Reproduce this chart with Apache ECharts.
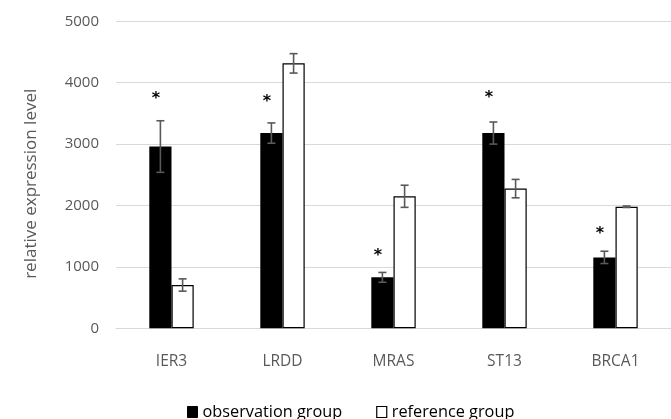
<!DOCTYPE html>
<html><head><meta charset="utf-8">
<script src="https://cdn.jsdelivr.net/npm/echarts@6/dist/echarts.min.js"></script>
<style>html,body{margin:0;padding:0;background:#fff}#c{width:671px;height:419px}</style>
</head><body><div id="c"></div>
<script>
const categories = ['IER3', 'LRDD', 'MRAS', 'ST13', 'BRCA1'];
const observationValues = [2960, 3180, 830, 3180, 1155];
const observationErrors = [420, 165, 80, 180, 100];
const referenceValues = [705, 4315, 2150, 2275, 1980];
const referenceErrors = [100, 158, 180, 150, 12];
const markerHeights = [3780, 3730, 1230, 3800, 1585];
const markerText = '*';
const yTicks = [0, 1000, 2000, 3000, 4000, 5000];

const FONT = 'Open Sans';
const errData = [];
categories.forEach((c, i) => {
  errData.push([i, observationValues[i], observationErrors[i], -1]);
  errData.push([i, referenceValues[i], referenceErrors[i], 1]);
});
const markData = categories.map((c, i) => [i, markerHeights[i]]);

const chart = echarts.init(document.getElementById('c'), null, {renderer: 'canvas'});
chart.setOption({
  animation: false,
  backgroundColor: '#fff',
  grid: {left: 116, right: 0, top: 21.3, bottom: 90.7, containLabel: false},
  legend: {
    left: 187, top: 404, padding: 0,
    itemWidth: 10, itemHeight: 11, itemGap: 34,
    textStyle: {fontFamily: FONT, fontSize: 16.3, color: '#000'},
    data: [
      {name: 'observation group', icon: 'rect', itemStyle: {color: '#000', borderColor: '#000', borderWidth: 1}},
      {name: 'reference group', icon: 'rect', itemStyle: {color: '#fff', borderColor: '#000', borderWidth: 1.2}}
    ]
  },
  xAxis: {
    type: 'category', data: categories,
    axisLine: {lineStyle: {color: '#d9d9d9', width: 1}},
    axisTick: {show: false},
    axisLabel: {fontFamily: FONT, fontSize: 15.5, color: '#595959', margin: 25}
  },
  yAxis: {
    type: 'value', min: yTicks[0], max: yTicks[yTicks.length - 1], interval: 1000,
    name: 'relative expression level', nameLocation: 'middle', nameGap: 76,
    nameTextStyle: {fontFamily: FONT, fontSize: 17, color: '#595959', padding: [0, 18, 0, 0]},
    axisLine: {show: false}, axisTick: {show: false},
    axisLabel: {fontFamily: FONT, fontSize: 15, color: '#595959', margin: 17,
      formatter: function (v) { return String(v); }},
    splitLine: {lineStyle: {color: '#d9d9d9', width: 1}}
  },
  series: [
    {name: 'observation group', type: 'bar', data: observationValues,
     barGap: '0%', barCategoryGap: '60%',
     itemStyle: {color: '#000'}},
    {name: 'reference group', type: 'bar', data: referenceValues,
     barGap: '0%', barCategoryGap: '60%',
     itemStyle: {color: '#fff', borderColor: '#000', borderWidth: 1.2}},
    {name: 'errors', type: 'custom', data: errData, encode: {x: 0, y: 1}, z: 5,
     renderItem: function (params, api) {
       const i = api.value(0), v = api.value(1), e = api.value(2), side = api.value(3);
       const band = api.size([1, 0])[0];
       const x = api.coord([i, v])[0] + side * band * 0.1;
       const yT = api.coord([i, v + e])[1], yB = api.coord([i, v - e])[1];
       const cap = 4, st = {stroke: '#595959', lineWidth: 1.6};
       return {type: 'group', children: [
         {type: 'line', shape: {x1: x, y1: yT, x2: x, y2: yB}, style: st},
         {type: 'line', shape: {x1: x - cap, y1: yT, x2: x + cap, y2: yT}, style: st},
         {type: 'line', shape: {x1: x - cap, y1: yB, x2: x + cap, y2: yB}, style: st}
       ]};
     }},
    {name: 'markers', type: 'custom', data: markData, encode: {x: 0, y: 1}, z: 6,
     renderItem: function (params, api) {
       const i = api.value(0), v = api.value(1);
       const band = api.size([1, 0])[0];
       const p = api.coord([i, v]);
       return {type: 'text', x: p[0] - band * 0.1 - band * 0.04, y: p[1] + 3,
         style: {text: markerText, fontFamily: 'DejaVu Sans', fontWeight: 'bold', fontSize: 16,
           fill: '#000', align: 'center', verticalAlign: 'middle'}};
     }}
  ]
});
</script></body></html>
